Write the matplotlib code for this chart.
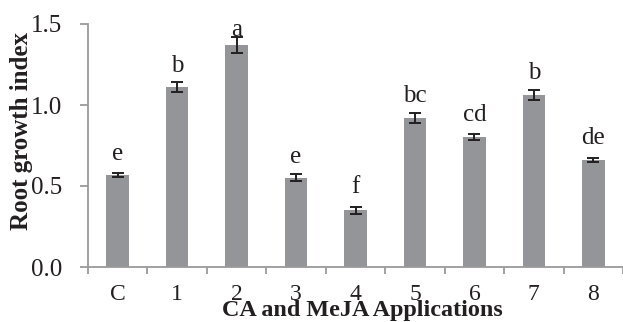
import numpy as np
import matplotlib
matplotlib.use('Agg')
import matplotlib.pyplot as plt

# data
treatments = ['C', '1', '2', '3', '4', '5', '6', '7', '8']
root_index = [0.57, 1.11, 1.37, 0.55, 0.35, 0.92, 0.80, 1.06, 0.66]
root_err = [0.012, 0.03, 0.05, 0.022, 0.02, 0.03, 0.018, 0.03, 0.01]
letters = ['e', 'b', 'a', 'e', 'f', 'bc', 'cd', 'b', 'de']

# baseline heights of the significance letters (data units)
letter_y = [0.66, 1.205, 1.426, 0.642, 0.457, 1.02, 0.903, 1.158, 0.759]

plt.rcParams['font.family'] = ['Liberation Serif', 'DejaVu Serif']

fig = plt.figure(figsize=(6.23, 3.22), dpi=100)
ax = fig.add_axes([88 / 623, 55 / 322, 535 / 623, 243 / 322])

x = np.arange(len(treatments))
ax.bar(x, root_index, width=0.38, color='#939598', zorder=2)
ax.errorbar(x, root_index, yerr=root_err, fmt='none', ecolor='#231f20',
            elinewidth=1.4, capsize=4.3, capthick=1.4, zorder=3)

for xi, yi, lab in zip(x, letter_y, letters):
    ax.text(xi, yi, lab, ha='center', va='baseline', fontsize=18, color='#231f20')

ax.set_ylim(0, 1.5)
ax.set_xlim(-0.5, -0.5 + 535 / 60.2)
ax.set_yticks([0.0, 0.5, 1.0, 1.5])
ax.set_yticklabels(['0.0', '0.5', '1.0', '1.5'])
ax.set_xticks(x)
ax.set_xticklabels(treatments)
ax.set_xticks(np.arange(-0.5, 9, 1), minor=True)

for s in ['top', 'right']:
    ax.spines[s].set_visible(False)
for s in ['left', 'bottom']:
    ax.spines[s].set_color('#9a9a9a')
    ax.spines[s].set_linewidth(1.3)

ax.tick_params(axis='y', direction='out', length=6, width=1.3, color='#9a9a9a',
               labelsize=18, pad=12.5, labelcolor='#231f20')
ax.tick_params(axis='x', which='major', length=0, labelsize=17, pad=12, labelcolor='#231f20')
ax.tick_params(axis='x', which='minor', direction='out', length=5, width=1.3, color='#9a9a9a')

ax.set_xlabel('CA and MeJA Applications', fontsize=17.4, fontweight='bold', color='#231f20',
              va='baseline')
ax.xaxis.set_label_coords(0.512, -0.2016)
ax.set_ylabel('Root growth index', fontsize=18, fontweight='bold', color='#231f20')
ax.yaxis.set_label_coords(-0.103, 0.56)

fig.savefig('out.png', dpi=100)
